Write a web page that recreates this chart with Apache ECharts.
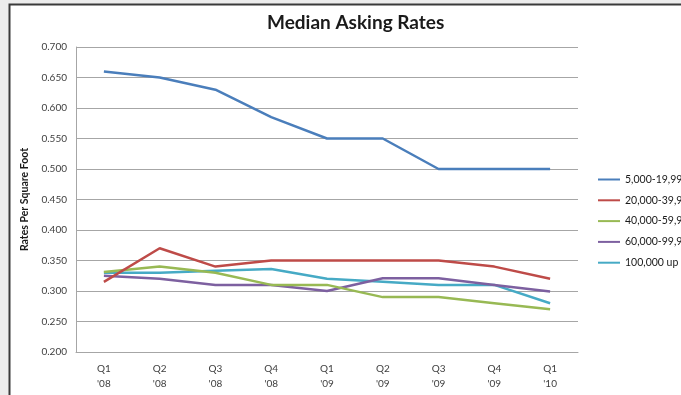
<!DOCTYPE html>
<html>
<head>
<meta charset="utf-8">
<script src="https://cdn.jsdelivr.net/npm/echarts@6/dist/echarts.min.js"></script>
<style>
  html, body { margin: 0; padding: 0; background: #ececec; }
  #chart { width: 681px; height: 395px; }
</style>
</head>
<body>
<div id="chart"></div>
<script>
// Quarter labels (two lines: quarter / year)
var quarters = ["Q1\n'08", "Q2\n'08", "Q3\n'08", "Q4\n'08", "Q1\n'09", "Q2\n'09", "Q3\n'09", "Q4\n'09", "Q1\n'10"];

// Median asking rate per square foot, by building size range
var size5to20k   = [0.660, 0.650, 0.630, 0.585, 0.550, 0.550, 0.500, 0.500, 0.500];
var size20to40k  = [0.315, 0.370, 0.340, 0.350, 0.350, 0.350, 0.350, 0.340, 0.320];
var size40to60k  = [0.331, 0.340, 0.330, 0.310, 0.310, 0.290, 0.290, 0.280, 0.270];
var size60to100k = [0.325, 0.320, 0.310, 0.310, 0.300, 0.321, 0.321, 0.310, 0.299];
var size100kUp   = [0.330, 0.330, 0.333, 0.336, 0.320, 0.315, 0.310, 0.310, 0.280];

var seriesNames  = ["5,000-19,999", "20,000-39,999", "40,000-59,999", "60,000-99,999", "100,000 up"];
var seriesColors = ["#4a7ebb", "#be4b48", "#98b954", "#7d60a0", "#46aac5"];
var seriesData   = [size5to20k, size20to40k, size40to60k, size60to100k, size100kUp];

var font = "Lato, 'Open Sans', sans-serif";

var chart = echarts.init(document.getElementById('chart'), null, { renderer: 'canvas' });

var option = {
  animation: false,
  backgroundColor: '#ececec',
  textStyle: { fontFamily: font },
  graphic: [{
    type: 'rect',
    z: -10,
    shape: { x: 9.5, y: 4.5, width: 720, height: 420 },
    style: { fill: '#ffffff', stroke: '#3a3a3a', lineWidth: 2 }
  }],
  title: {
    text: 'Median Asking Rates',
    left: 262,
    top: 8,
    textStyle: { fontFamily: font, fontSize: 19, fontWeight: 'bold', color: '#1a1a1a' }
  },
  legend: {
    orient: 'vertical',
    left: 593,
    top: 169,
    itemWidth: 22,
    itemHeight: 2,
    itemGap: 9.8,
    icon: 'rect',
    textStyle: { fontFamily: font, fontSize: 10.5, color: '#1a1a1a' },
    data: seriesNames
  },
  grid: { left: 76, right: 103, top: 47, bottom: 43, containLabel: false },
  xAxis: {
    type: 'category',
    data: quarters,
    boundaryGap: true,
    axisLine: { lineStyle: { color: '#a6a6a6', width: 1 } },
    axisTick: { show: false },
    axisLabel: { fontFamily: font, fontSize: 10, color: '#404040', lineHeight: 15, margin: 9 }
  },
  yAxis: {
    type: 'value',
    min: 0.2,
    max: 0.7,
    interval: 0.05,
    name: 'Rates Per Square Foot',
    nameLocation: 'middle',
    nameGap: 45,
    nameRotate: 90,
    nameTextStyle: { fontFamily: font, fontSize: 10.5, fontWeight: 'bold', color: '#1a1a1a' },
    axisLine: { show: true, lineStyle: { color: '#a6a6a6', width: 1 } },
    axisTick: { show: false },
    splitLine: { lineStyle: { color: '#a6a6a6', width: 1 } },
    axisLabel: {
      fontFamily: font, fontSize: 10, color: '#404040', margin: 9,
      formatter: function (v) { return v.toFixed(3); }
    }
  },
  series: seriesNames.map(function (name, i) {
    return {
      name: name,
      type: 'line',
      data: seriesData[i],
      symbol: 'none',
      color: seriesColors[i],
      lineStyle: { width: 2.5, color: seriesColors[i] },
      z: 10 - i
    };
  })
};

chart.setOption(option);
</script>
</body>
</html>
